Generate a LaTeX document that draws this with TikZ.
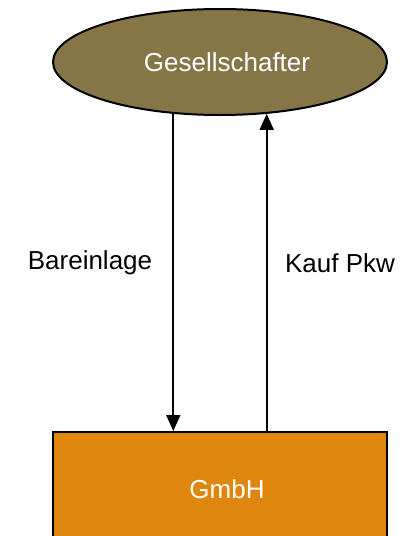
\documentclass[tikz,border=0pt]{standalone}
\usepackage{fontspec}
\setmainfont{Liberation Sans}
\usetikzlibrary{shapes.geometric,arrows.meta}
\definecolor{olivebrown}{RGB}{133,117,71}
\definecolor{gmbhorange}{RGB}{222,134,14}

\begin{document}
\begin{tikzpicture}[x=1pt,y=1pt,
    every node/.style={font=\fontsize{26}{30}\selectfont},
    party/.style={ellipse,draw=black,line width=2pt,fill=olivebrown,
      text=white,minimum width=334pt,minimum height=106pt,inner sep=0pt},
    firm/.style={rectangle,draw=black,line width=2pt,fill=gmbhorange,
      text=white,minimum width=334pt,minimum height=114pt,inner sep=0pt},
    flow/.style={line width=1.7pt,-{Triangle[width=14pt,length=16pt]}}]
  \useasboundingbox (0,0) rectangle (407,-536);
  \node[party] (gesell) at (220,-62) {\hspace*{14pt}Gesellschafter};
  \node[firm] (gmbh) at (220,-489) {\hspace*{14pt}GmbH};
  \draw[flow] (gesell.228) -- (gesell.228 |- gmbh.north);
  \draw[flow] (gesell.312 |- gmbh.north) -- (gesell.312);
  \node (bar) at (90,-263) {Bareinlage};
  \node (kauf) at (340,-263) {Kauf Pkw};
\end{tikzpicture}
\end{document}
